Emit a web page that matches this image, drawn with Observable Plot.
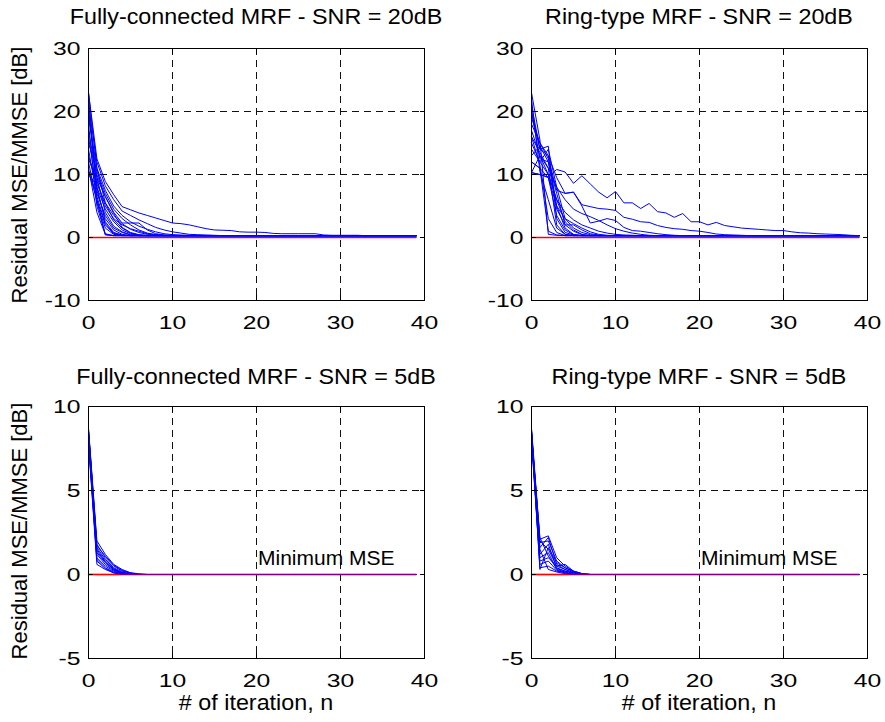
<!DOCTYPE html>
<html>
<head>
<meta charset="utf-8">
<script src="https://cdn.jsdelivr.net/npm/d3@7"></script>
<script src="https://cdn.jsdelivr.net/npm/@observablehq/plot@0.6"></script>
<style>
  html,body{margin:0;padding:0;background:#fff;}
  #fig{position:relative;width:885px;height:722px;overflow:hidden;font-family:"Liberation Sans",Arial,Helvetica,sans-serif;color:#000;}
  .pnl{position:absolute;}
  .lbl{position:absolute;white-space:nowrap;line-height:1;}
</style>
</head>
<body>
<div id="fig"></div>
<script>
// ---------------- data ----------------
const iterations = d3.range(0, 40);          // n = 0 … 39
const minimumMSE = 0;                        // residual MSE/MMSE floor [dB]
const xTicks = [0, 10, 20, 30, 40];
const xGrid = [10, 20, 30];
const yTicksTop = [-10, 0, 10, 20, 30];
const yGridTop = [10, 20];
const yTicksBottom = [-5, 0, 5, 10];
const yGridBottom = [5];
const titles = [
  "Fully-connected MRF - SNR = 20dB",
  "Ring-type MRF - SNR = 20dB",
  "Fully-connected MRF - SNR = 5dB",
  "Ring-type MRF - SNR = 5dB"
];
const yLabel = "Residual MSE/MMSE [dB]";
const xLabel = "# of iteration, n";
const noteText = "Minimum MSE";
const notePos = {n: 28.3, v: 0.95};

// each run: residual dB per iteration; a run stays at its last listed value once converged
const fc20 = [
  [23, 12.5, 8.9, 6.8, 4.9, 4.4, 3.9, 3.5, 3.1, 2.7, 2.3, 2.2, 2.0, 1.7, 1.4, 1.2, 1.15, 1.1, 0.9, 0.85, 0.85, 0.8, 0.65, 0.6, 0.6, 0.6, 0.6, 0.6, 0.4, 0.35, 0.35, 0.35, 0.35, 0.3, 0.3, 0.3, 0.3, 0.3, 0.3, 0.3],
  [21, 12, 8.2, 6, 4.2, 3.5, 2.8, 2.2, 1.6, 1.2, 0.9, 0.7, 0.5, 0.45, 0.4, 0.35, 0.3],
  [19, 11, 7.5, 5, 3.5, 2.5, 1.8, 1.3, 0.9, 0.6, 0.45, 0.4, 0.35, 0.3],
  [17, 9.5, 6.5, 4, 2.3, 2.3, 2.3, 1.2, 0.6, 0.4, 0.35, 0.3],
  [15, 10.5, 7, 4.5, 3, 2, 1.2, 0.7, 0.45, 0.35, 0.3],
  [13, 8.5, 5.5, 3.5, 2.2, 1.3, 0.8, 0.5, 0.35, 0.3],
  [10.3, 10, 6.5, 3.8, 1.6, 0.8, 0.45, 0.35, 0.3],
  [10.3, 8, 4.5, 2.5, 1.2, 0.6, 0.35, 0.3],
  [10.3, 7, 3.5, 1.5, 0.8, 0.4, 0.3],
  [22.5, 6, 0.4, 0.3],
  [20, 8, 2.5, 0.8, 0.4, 0.3],
  [18, 5, 0.6, 0.3],
  [16, 7.5, 3, 1.2, 0.5, 0.3],
  [14, 6.5, 2.2, 0.7, 0.35, 0.3],
  [12, 5.5, 1.5, 0.5, 0.3],
  [11, 4, 0.5, 0.3],
  [23, 11, 5.5, 2.8, 1.5, 0.7, 0.4, 0.3],
  [12.5, 9, 5, 3, 2, 1.4, 1.0, 0.6, 0.45, 0.35, 0.3],
  [20.5, 9.5, 4, 1.8, 0.9, 0.45, 0.3],
  [10.5, 6, 2, 0.6, 0.3]
];
const ring20 = [
  [10.3, 10, 9.6, 10.8, 10.4, 8.6, 9.8, 8.5, 7.2, 6.3, 7.3, 5.5, 5.5, 4.6, 5.4, 4.1, 3.9, 3.2, 3.8, 2.5, 2.5, 2.0, 2.4, 1.9, 1.7, 1.5, 1.4, 1.3, 1.2, 1.1, 1.1, 0.9, 0.75, 0.7, 0.6, 0.55, 0.5, 0.45, 0.35, 0.3],
  [20, 14, 13, 9.5, 7, 7.2, 5.2, 4.9, 4.6, 4.5, 4.3, 3.2, 2.9, 2.5, 2.4, 1.9, 1.6, 1.4, 1.3, 1.1, 1.0, 0.8, 0.55, 0.45, 0.4, 0.35, 0.3],
  [18, 15, 12.5, 7.5, 7, 7.2, 5, 2.3, 2.6, 3.0, 2.7, 1.6, 1.1, 1.0, 0.8, 0.6, 0.45, 0.35, 0.3],
  [16, 13.5, 11, 8, 6, 4.5, 3.8, 3.3, 2.7, 2.0, 1.4, 1.0, 0.7, 0.5, 0.35, 0.3],
  [14, 12, 10, 6, 4, 2.8, 2.0, 1.5, 1.0, 0.7, 0.5, 0.4, 0.35, 0.3],
  [12, 11, 9.5, 5, 3, 2.2, 1.5, 0.9, 0.5, 0.35, 0.3],
  [23, 15.5, 0.5, 0.35, 0.3],
  [21, 14, 14.5, 3, 0.8, 0.4, 0.3],
  [19, 15, 13, 5, 1.5, 0.5, 0.3],
  [17, 13, 11, 2, 0.5, 0.3],
  [15, 12, 14, 8, 3, 1.5, 0.8, 0.45, 0.3],
  [13, 14.5, 12, 4.5, 2, 1, 0.45, 0.3],
  [10.3, 13, 10, 6, 2.5, 1.2, 0.5, 0.3],
  [10.3, 10, 9.5, 3.5, 1.2, 0.45, 0.3],
  [12, 11, 1, 0.4, 0.3],
  [22, 10.5, 6, 1.5, 0.5, 0.3],
  [20, 12.5, 12, 7, 2, 2, 1.2, 0.6, 0.4, 0.3],
  [16, 11.5, 3, 0.8, 0.3]
];
const fc5 = [
  [8.7, 2.0, 1.2, 0.6, 0.3, 0.1, 0.05, 0],
  [8.6, 1.8, 1.0, 0.5, 0.2, 0.08, 0],
  [8.5, 1.6, 0.9, 0.4, 0.15, 0.05, 0],
  [8.4, 1.5, 0.8, 0.35, 0.1, 0],
  [8.3, 1.3, 0.7, 0.3, 0.1, 0],
  [8.2, 1.2, 0.6, 0.25, 0.08, 0],
  [8.1, 1.0, 0.5, 0.2, 0.05, 0],
  [8.0, 0.9, 0.4, 0.15, 0.05, 0],
  [7.9, 0.8, 0.35, 0.1, 0],
  [7.8, 0.6, 0.3, 0.1, 0],
  [8.6, 1.7, 1.1, 0.55, 0.25, 0.1, 0],
  [8.5, 1.4, 0.75, 0.3, 0.1, 0]
];
const ring5 = [
  [8.7, 2.1, 2.3, 1.0, 0.5, 0.2, 0.05, 0],
  [8.6, 1.9, 2.0, 0.8, 0.4, 0.15, 0.05, 0],
  [8.5, 1.6, 2.2, 0.6, 0.3, 0.1, 0],
  [8.4, 2.0, 1.5, 0.5, 0.6, 0.2, 0.05, 0],
  [8.3, 1.2, 1.8, 0.4, 0.2, 0.05, 0],
  [8.2, 1.0, 1.3, 0.3, 0.15, 0],
  [8.1, 0.8, 1.0, 0.5, 0.3, 0.1, 0],
  [8.0, 0.6, 0.8, 0.25, 0.1, 0],
  [8.6, 0.4, 0.5, 0.2, 0.1, 0],
  [8.5, 0.3, 1.6, 0.7, 0.4, 0.2, 0.05, 0],
  [8.4, 1.5, 0.3, 0.15, 0.05, 0],
  [8.2, 2.2, 1.1, 0.35, 0.2, 0.1, 0]
];

// ---------------- drawing ----------------
const FONT = "Liberation Sans, Arial, Helvetica, sans-serif";
const TICK_STRETCH = 1.3;
const fig = document.getElementById("fig");

function stretchText(svg, selector, s) {
  svg.querySelectorAll(selector).forEach(el => {
    const t = el.getAttribute("transform");
    if (t) el.setAttribute("transform", t + ` scale(${s},1)`);
    else {
      const x = +(el.getAttribute("x") || 0);
      el.setAttribute("transform", `translate(${x},0) scale(${s},1) translate(${-x},0)`);
    }
  });
}

function panel(cfg) {
  const rows = [];
  cfg.curves.forEach((vals, k) => {
    iterations.forEach(n => rows.push({k, n, v: vals[Math.min(n, vals.length - 1)]}));
  });
  const floor = iterations.map(n => ({n, v: minimumMSE}));
  const dash = {stroke: "#111", strokeOpacity: 1, strokeWidth: 1, strokeDasharray: "7,5"};
  const chart = Plot.plot({
    width: cfg.w, height: 361,
    marginLeft: cfg.ml, marginRight: cfg.mr, marginTop: cfg.mt, marginBottom: cfg.mb,
    style: {fontFamily: FONT, fontSize: "19px", color: "#000", background: "transparent", overflow: "visible"},
    x: {domain: [0, 40]},
    y: {domain: cfg.yDomain},
    marks: [
      Plot.gridX(xGrid, dash),
      Plot.gridY(cfg.yGrid, dash),
      Plot.line(floor, {x: "n", y: "v", stroke: "#ff0000", strokeWidth: 1.3}),
      Plot.line(rows, {x: "n", y: "v", z: "k", stroke: "#0000ff", strokeWidth: 1}),
      cfg.note ? Plot.line(floor, {x: "n", y: "v", stroke: "#ff0000", strokeWidth: 1.3, strokeOpacity: 0.5}) : null,
      cfg.note ? Plot.text([notePos], {x: "n", y: "v", text: () => noteText, fontSize: 21, fill: "#000", ariaLabel: "note"}) : null,
      Plot.frame({stroke: "#000", strokeWidth: 1}),
      Plot.axisX(xTicks, {anchor: "bottom", tickSize: -5, tickPadding: 20, tickFormat: d => String(d), label: null}),
      Plot.axisX(xTicks, {anchor: "top", tickSize: -5, tickFormat: () => "", label: null}),
      Plot.axisY(cfg.yTicks, {anchor: "left", tickSize: -5, tickPadding: 13, tickFormat: d => String(d), label: null}),
      Plot.axisY(cfg.yTicks, {anchor: "right", tickSize: -5, tickFormat: () => "", label: null})
    ]
  });
  stretchText(chart, 'g[aria-label$="tick label"] text', TICK_STRETCH);
  stretchText(chart, 'g[aria-label="note"] text', 0.84);
  chart.classList.add("pnl");
  chart.style.left = cfg.left + "px";
  chart.style.top = cfg.top + "px";
  fig.appendChild(chart);
}

function label(text, cx, cy, size, rotate, s) {
  const d = document.createElement("div");
  d.className = "lbl";
  d.textContent = text;
  d.style.fontSize = size + "px";
  d.style.left = cx + "px";
  d.style.top = cy + "px";
  d.style.transform = `translate(-50%,-50%)${rotate ? " rotate(-90deg)" : ""} scaleX(${s})`;
  fig.appendChild(d);
}

panel({curves: fc20,   left: 0,   top: 0,   w: 442, ml: 88, mr: 18, mt: 48, mb: 61, yDomain: [-10, 30], yTicks: yTicksTop, yGrid: yGridTop});
panel({curves: ring20, left: 442, top: 0,   w: 443, ml: 89, mr: 18, mt: 48, mb: 61, yDomain: [-10, 30], yTicks: yTicksTop, yGrid: yGridTop});
panel({curves: fc5,    left: 0,   top: 361, w: 442, ml: 88, mr: 18, mt: 45, mb: 64, yDomain: [-5, 10], yTicks: yTicksBottom, yGrid: yGridBottom, note: true});
panel({curves: ring5,  left: 442, top: 361, w: 443, ml: 89, mr: 18, mt: 45, mb: 64, yDomain: [-5, 10], yTicks: yTicksBottom, yGrid: yGridBottom, note: true});

label(titles[0], 256, 17, 22, false, 1.06);
label(titles[1], 699, 17, 22, false, 1.06);
label(titles[2], 256, 377, 22, false, 1.06);
label(titles[3], 699, 377, 22, false, 1.06);
label(yLabel, 20, 175, 22, true, 1.0);
label(yLabel, 20, 531, 22, true, 1.0);
label(xLabel, 256, 703, 22, false, 1.06);
label(xLabel, 699, 703, 22, false, 1.06);
</script>
</body>
</html>
